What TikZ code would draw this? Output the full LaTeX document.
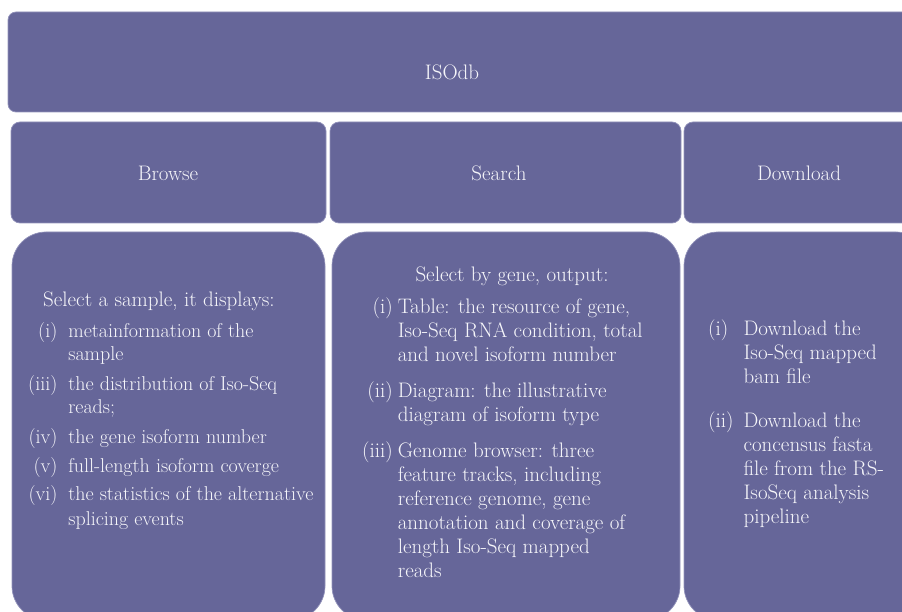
\documentclass[tikz,border=0pt]{standalone}
\usepackage{xcolor}
\usetikzlibrary{positioning}
\definecolor{isofill}{RGB}{102,102,153}
\definecolor{isoedge}{RGB}{146,146,186}
\definecolor{isotext}{RGB}{246,246,250}
\newcommand{\itemtab}[2]{\begin{tabular}[t]{@{}#1@{}}#2\end{tabular}}

\begin{document}
\begin{tikzpicture}[%
    x=1pt,y=-1pt,%
    panel/.style={fill=isofill,draw=isoedge,line width=0.7pt,inner sep=0pt},%
    headbox/.style={panel,rounded corners=8pt},%
    tabbox/.style={panel,rounded corners=9pt},%
    infobox/.style={panel,rounded corners=34pt},%
    boxtext/.style={text=isotext,inner sep=0pt,font=\fontsize{21}{24}\selectfont},%
  ]
  %
  % Définitions
  %
  \pgfmathsetmacro{\xa}{11};%
  \pgfmathsetmacro{\xb}{326};%
  \pgfmathsetmacro{\xc}{330};%
  \pgfmathsetmacro{\xd}{681};%
  \pgfmathsetmacro{\xe}{684};%
  \pgfmathsetmacro{\xf}{912};%

  \pgfmathsetmacro{\ytop}{12};%
  \pgfmathsetmacro{\ymid}{122};%
  \pgfmathsetmacro{\ylow}{232};%

  \useasboundingbox (0,0) rectangle (902,612);%
  \clip (0,0) rectangle (902,612);%

  %
  % Dessin
  %
  % ISOdb
  \node[headbox,minimum width=922pt,minimum height=100pt] (isodb) at (469,62) {};%
  \node[boxtext,anchor=base] (isodbname) at (452,80) {ISOdb};%

  % Onglets
  \node[tabbox,minimum width=315pt,minimum height=101pt] (browse) at ({0.5*(\xa+\xb)},172.5) {};%
  \node[tabbox,minimum width=351pt,minimum height=101pt] (search) at ({0.5*(\xc+\xd)},172.5) {};%
  \node[tabbox,minimum width=228pt,minimum height=101pt] (download) at ({0.5*(\xe+\xf)},172.5) {};%
  \node[boxtext,anchor=base] at (168,181) {Browse};%
  \node[boxtext,anchor=base] at (499,181) {Search};%
  \node[boxtext,anchor=base] at (799,181) {Download};%

  % Contenus
  \node[infobox,minimum width=313pt,minimum height=388pt] (browseinfo) at (168.5,426) {};%
  \node[infobox,minimum width=348pt,minimum height=388pt] (searchinfo) at (506,426) {};%
  \node[infobox,minimum width=246pt,minimum height=388pt] (downloadinfo) at (807,426) {};%

  % Browse
  \node[boxtext,anchor=base west] (browsehead) at (43,306) {Select a sample, it displays:};%
  \node[boxtext,anchor=base west,font=\fontsize{20}{24}\selectfont] (browselist) at (28,337) {\itemtab{r@{\hspace{11pt}}l}{%
      (i) & metainformation of the\\
          & sample\\[5pt]
      (iii) & the distribution of Iso-Seq\\
            & reads;\\[5pt]
      (iv) & the gene isoform number\\[5pt]
      (v) & full-length isoform coverge\\[5pt]
      (vi) & the statistics of the alternative\\
           & splicing events}};%

  % Search
  \node[boxtext,anchor=base] (searchhead) at (512,282) {Select by gene, output:};%
  \node[boxtext,anchor=base west] (searchlist) at (362,313) {\itemtab{r@{\hspace{5pt}}l}{%
      (i) & Table: the resource of gene,\\
          & Iso-Seq RNA condition, total\\
          & and novel isoform number\\[12pt]
      (ii) & Diagram: the illustrative\\
           & diagram of isoform type\\[12pt]
      (iii) & Genome browser: three\\
            & feature tracks, including\\
            & reference genome, gene\\
            & annotation and coverage of\\
            & length Iso-Seq mapped\\
            & reads}};%

  % Download
  \node[boxtext,anchor=base west] (downloadlist) at (708,335) {\itemtab{l@{\hspace{10pt}}l}{%
      (i) & Download the\\
          & Iso-Seq mapped\\
          & bam file\\[20pt]
      (ii) & Download the\\
           & concensus fasta\\
           & file from the RS-\\
           & IsoSeq analysis\\
           & pipeline}};%

\end{tikzpicture}
\end{document}
